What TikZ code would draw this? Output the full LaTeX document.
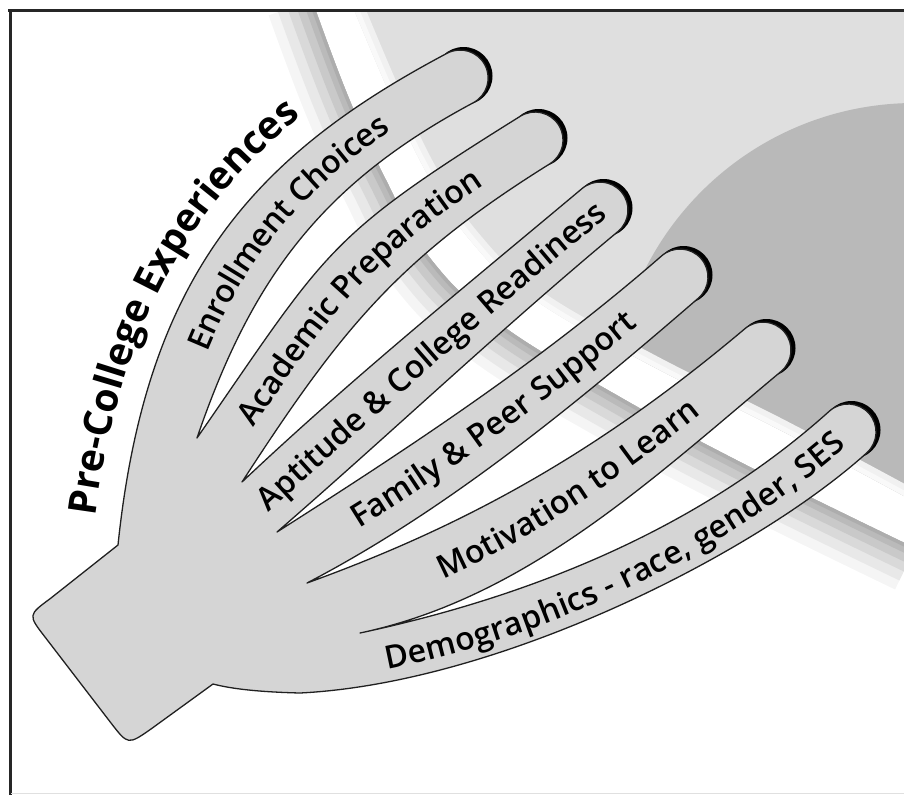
\documentclass[tikz,border=0pt]{standalone}
\usepackage{fontspec}
\setmainfont{Open Sans}
\IfFontExistsTF{Open Sans SemiBold}{\newfontfamily\labfam{Open Sans SemiBold}}{%
  \IfFontExistsTF{Open Sans Semibold}{\newfontfamily\labfam{Open Sans Semibold}}{%
    \newfontfamily\labfam{Open Sans Bold}}}
\IfFontExistsTF{Open Sans ExtraBold}{\newfontfamily\titfam{Open Sans ExtraBold}}{%
  \newfontfamily\titfam{Open Sans Bold}}
\usetikzlibrary{decorations.text}
\definecolor{bglight}{HTML}{DFDFDF}
\definecolor{bgdark}{HTML}{B9B9B9}
\definecolor{handfill}{HTML}{D5D5D5}
\definecolor{handline}{HTML}{202020}
\newcommand\labstyle{\labfam\fontsize{32}{36}\selectfont}
\newcommand\titstyle{\titfam\fontsize{39}{44}\selectfont}
\tikzset{
  hand/.style={draw=handline, line width=1.3, fill=handfill, line join=round},
  tipshadow/.style={fill=black},
  lab/.style={decorate, decoration={text along path, text={|\labstyle|#1}, raise=-10pt}},
  framestroke/.style={line width=3, draw=black!85},
}
\def\lightedge{(350,0) (388,90) (425,170) (470,240) (535,300) (650,365) (780,430) (915,502)}
\def\stripeedge{(312,0) (348,96) (386,180) (430,258) (500,324) (620,397) (746,465) (915,548)}
\begin{document}
\begin{tikzpicture}[x=1pt, y=-1pt]
\useasboundingbox (0,0) rectangle (904,795);
% background
\begin{scope}
  \clip (11.5,11.5) rectangle (904,795);
  \begin{scope}
    \clip plot[smooth, tension=0.7] coordinates {\lightedge} -- (915,0) -- cycle;
    \fill[bglight] (0,0) rectangle (915,800);
    \fill[bgdark] (915,405) circle[radius=302];
    \draw[line width=22, bglight!45!white] plot[smooth, tension=0.7] coordinates {\lightedge};
    \draw[line width=10, bglight!20!white] plot[smooth, tension=0.7] coordinates {\lightedge};
  \end{scope}
  \begin{scope}
    \clip plot[smooth, tension=0.7] coordinates {\stripeedge} -- (915,800) -- (0,800) -- (0,0) -- cycle;
    \foreach \sw/\sc in {92/4, 72/9, 52/15, 34/21, 18/27, 7/32}
      \draw[line width=\sw, black!\sc] plot[smooth, tension=0.7] coordinates {\stripeedge};
  \end{scope}
\end{scope}
% frame
\draw[framestroke] (8,10) -- (904,10);
\draw[framestroke] (10,10) -- (10,795);
\draw[black!12, line width=1] (11,793) -- (904,793);
% tip shadows
\fill[tipshadow] (463.5,76) circle[radius=29];
\fill[tipshadow] (538.5,138) circle[radius=29];
\fill[tipshadow] (603.5,208) circle[radius=29];
\fill[tipshadow] (683.5,275) circle[radius=29];
\fill[tipshadow] (766.5,348) circle[radius=29];
\fill[tipshadow] (851.5,430) circle[radius=29];
% hand
\path[hand]
 (118,545) .. controls (146,276) and (253,156) .. (447,53.3)
 arc[start angle=-118, end angle=62, radius=28]
 .. controls (323,183) and (252,277) .. (197,438)
 .. controls (328,249) and (325,238) .. (520.2,116.3)
 arc[start angle=-122, end angle=58, radius=28]
 .. controls (397,259) and (340,331) .. (242,482)
 .. controls (351,379) and (467,285) .. (582,188.6)
 arc[start angle=-130, end angle=50, radius=28]
 .. controls (503,327) and (390,434) .. (277,532)
 .. controls (412,446) and (541,361) .. (661.6,255.9)
 arc[start angle=-131, end angle=49, radius=28]
 .. controls (577,403) and (449,509) .. (307,583)
 .. controls (476,522) and (607,445) .. (745,328.6)
 arc[start angle=-130, end angle=50, radius=28]
 .. controls (651,480) and (526,598) .. (360,633)
 .. controls (575,587) and (725,505) .. (829.3,411.2)
 arc[start angle=-132, end angle=48, radius=28]
 .. controls (756,553) and (500,683) .. (300,693)
 .. controls (260,692) and (232,689) .. (213,684)
 -- (151,729) .. controls (128,745) .. (111,723)
 -- (45,637) .. controls (28,615) .. (50.5,598.4)
 -- cycle;
% labels
\path[lab={Enrollment Choices}] (198,349) .. controls (249,224) and (331,147) .. (460,78);
\path[lab={Academic Preparation}] (245,422) .. controls (339,283) and (375,240) .. (535,140);
\path[lab={Aptitude {\&} College Readiness}] (262,505) .. controls (370,406) and (485,306) .. (600,210);
\path[lab={Family {\&} Peer Support}] (354,520) .. controls (469,449) and (577,366) .. (680,277);
\path[lab={Motivation to Learn}] (439,570) .. controls (558,516) and (658,438) .. (763,350);
\path[lab={Demographics - race, gender, SES}] (385,660) .. controls (565,625) and (740,530) .. (848,432);
\path[decorate, decoration={text along path, text={|\titstyle|Pre-College Experiences}, text align={left indent=26pt}}] (92,542) .. controls (122,267) and (236,136) .. (435,30);
\end{tikzpicture}
\end{document}
